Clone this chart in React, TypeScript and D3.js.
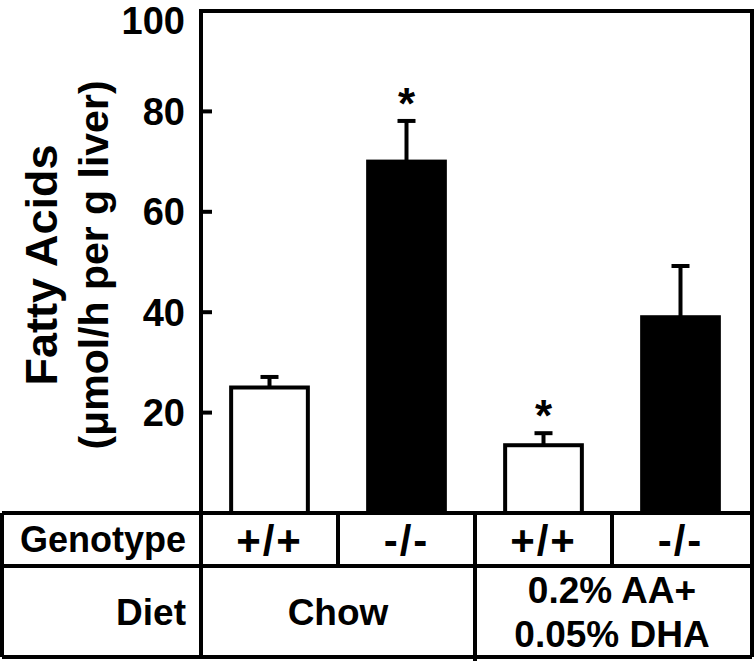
import React, { useRef, useEffect } from 'react';
import * as d3 from 'd3';

// groups shown along the x axis, left to right
const groups = ['chow-wt', 'chow-ko', 'pufa-wt', 'pufa-ko'];
const genotypes = ['+/+', '-/-', '+/+', '-/-'];
const diets = [['Chow'], ['0.2% AA+', '0.05% DHA']];
const means = [25, 70, 13.5, 39];
const errors = [2.1, 8.1, 2.4, 10.2];
const stars = [false, true, true, false];
const filled = [false, true, false, true];
const yTicks = [20, 40, 60, 80, 100];

const FONT = '"Liberation Sans", Arial, Helvetica, sans-serif';

export default function App() {
  const svgRef = useRef<SVGSVGElement | null>(null);

  useEffect(() => {
    document.body.style.margin = '0';
    const width = 755;
    const height = 661;

    const left = 201;
    const right = 752;
    const top = 11;
    const base = 513;
    const rowMid = 566;
    const bottom = 657;
    const tableLeft = 2;

    const svg = d3.select(svgRef.current).attr('width', width).attr('height', height);
    svg.selectAll('*').remove();

    const x = d3.scaleBand<string>().domain(groups).range([left, right - 3]).paddingInner(0.44).paddingOuter(0.22);
    const y = d3.scaleLinear().domain([0, 100]).range([base, top]);
    const step = x.step();
    const colEdge = (i: number) => left + step * i;

    const g = svg.append('g');

    // bars
    g.selectAll('.bar')
      .data(means)
      .join('rect')
      .attr('class', 'bar')
      .attr('x', (_, i) => x(groups[i])!)
      .attr('width', x.bandwidth())
      .attr('y', (d) => y(d))
      .attr('height', (d) => base - y(d))
      .attr('fill', (_, i) => (filled[i] ? '#000' : '#fff'))
      .attr('stroke', '#000')
      .attr('stroke-width', 4);

    // error bars (upper only)
    means.forEach((m, i) => {
      const cx = x(groups[i])! + x.bandwidth() / 2;
      const yTop = y(m + errors[i]);
      g.append('line')
        .attr('x1', cx).attr('x2', cx)
        .attr('y1', y(m)).attr('y2', yTop)
        .attr('stroke', '#000').attr('stroke-width', 4);
      g.append('line')
        .attr('x1', cx - 9).attr('x2', cx + 9)
        .attr('y1', yTop).attr('y2', yTop)
        .attr('stroke', '#000').attr('stroke-width', 4);
      if (stars[i]) {
        g.append('text')
          .attr('x', cx)
          .attr('y', yTop - 2)
          .attr('text-anchor', 'middle')
          .attr('font-family', FONT)
          .attr('font-weight', 'bold')
          .attr('font-size', 44)
          .text('*');
      }
    });

    // frame
    g.append('rect')
      .attr('x', left).attr('y', top)
      .attr('width', right - left).attr('height', base - top)
      .attr('fill', 'none')
      .attr('stroke', '#000').attr('stroke-width', 4);

    // inward ticks
    g.selectAll('.tick')
      .data(yTicks.filter((t) => t < 100))
      .join('line')
      .attr('x1', left).attr('x2', left + 11)
      .attr('y1', (d) => y(d)).attr('y2', (d) => y(d))
      .attr('stroke', '#000').attr('stroke-width', 4);

    // top label is pushed down a little so it stays on the page
    g.selectAll('.tick-label')
      .data(yTicks)
      .join('text')
      .attr('x', left - 16)
      .attr('y', (d) => Math.max(y(d), 20))
      .attr('dy', '0.36em')
      .attr('text-anchor', 'end')
      .attr('font-family', FONT)
      .attr('font-weight', 'bold')
      .attr('font-size', 38)
      .text((d) => d);

    // y title
    const yc = 265;
    g.append('text')
      .attr('transform', `translate(57,${yc}) rotate(-90)`)
      .attr('text-anchor', 'middle')
      .attr('font-family', FONT)
      .attr('font-weight', 'bold')
      .attr('font-size', 45)
      .text('Fatty Acids');
    g.append('text')
      .attr('transform', `translate(108,${yc}) rotate(-90)`)
      .attr('text-anchor', 'middle')
      .attr('font-family', FONT)
      .attr('font-weight', 'bold')
      .attr('font-size', 41)
      .text('(μmol/h per g liver)');

    // table grid
    const t = g.append('g').attr('stroke', '#000').attr('stroke-width', 4);
    [base, rowMid, bottom].forEach((yy) => {
      t.append('line').attr('x1', tableLeft).attr('x2', right).attr('y1', yy).attr('y2', yy);
    });
    t.append('line').attr('x1', tableLeft).attr('x2', tableLeft).attr('y1', base).attr('y2', bottom);
    t.append('line').attr('x1', right).attr('x2', right).attr('y1', base).attr('y2', bottom);
    [0, 1, 2, 3].forEach((i) => {
      t.append('line')
        .attr('x1', colEdge(i)).attr('x2', colEdge(i))
        .attr('y1', base).attr('y2', i === 1 || i === 3 ? rowMid : i === 2 ? height : bottom);
    });

    const txt = (xx: number, yy: number, s: string, anchor = 'middle', size = 37, spacing = 0) =>
      g.append('text')
        .attr('x', xx).attr('y', yy).attr('dy', '0.36em')
        .attr('text-anchor', anchor)
        .attr('font-family', FONT)
        .attr('font-weight', 'bold')
        .attr('font-size', size)
        .attr('letter-spacing', spacing)
        .text(s);

    txt(left - 15, (base + rowMid) / 2, 'Genotype', 'end', 36);
    txt(left - 15, (rowMid + bottom) / 2, 'Diet', 'end');
    genotypes.forEach((s, i) => txt(colEdge(i) + step / 2, (base + rowMid) / 2, s, 'middle', 42, 2));
    diets.forEach((lines, j) => {
      const cx = colEdge(j * 2) + step;
      const mid = (rowMid + bottom) / 2;
      lines.forEach((s, k) => txt(cx, mid + (k - (lines.length - 1) / 2) * 44, s));
    });
  }, []);

  return <svg ref={svgRef} style={{ display: 'block' }} />;
}
